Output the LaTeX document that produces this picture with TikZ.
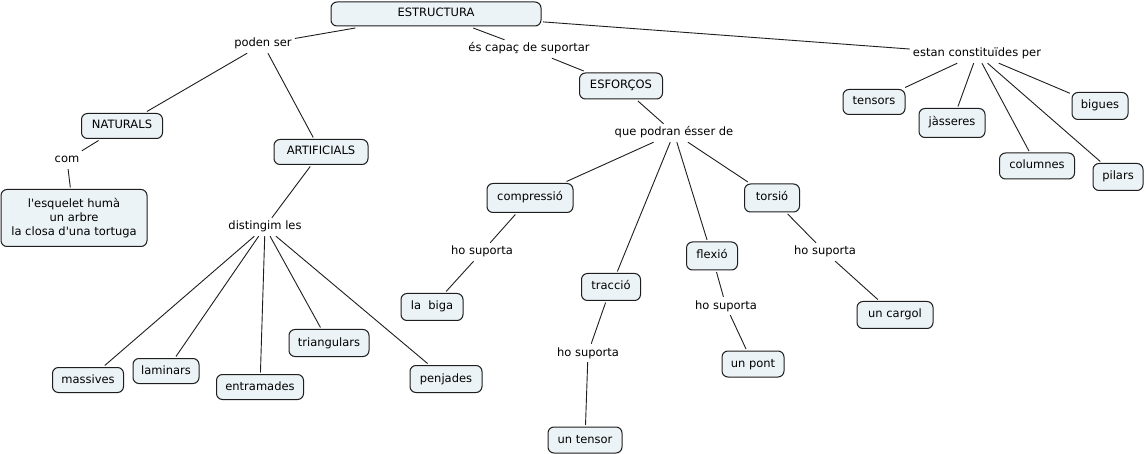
\documentclass[tikz,border=0pt]{standalone}
\usepackage{fontspec}
\setmainfont{DejaVu Sans}
\definecolor{boxfill}{RGB}{236,243,246}
\definecolor{linecol}{RGB}{30,30,30}
\tikzset{
  concept/.style={draw=linecol, fill=boxfill, rounded corners=6pt, line width=1pt,
    inner sep=0pt, outer sep=2pt, align=center, font=\fontsize{11.5}{14}\selectfont,
    text height=9pt, text depth=3pt},
  linkword/.style={inner sep=3pt, font=\fontsize{11.5}{14}\selectfont,
    text height=9pt, text depth=3pt},
  conn/.style={draw=linecol, line width=0.9pt}
}
\begin{document}
\begin{tikzpicture}[x=1pt,y=-1pt]
\useasboundingbox[fill=white] (0,0) rectangle (1146,454);
% concepts
\node[concept, minimum width=210, minimum height=24] (estr) at (436,14) {ESTRUCTURA};
\node[concept, minimum width=81, minimum height=25] (nat) at (122,126) {NATURALS};
\node[concept, minimum width=94, minimum height=25] (art) at (321,152) {ARTIFICIALS};
\node[concept, minimum width=146, minimum height=57, text height=, text depth=] (esq) at (74,218) {l\textquotesingle esquelet humà\\un arbre\\la closa d\textquotesingle una tortuga};
\node[concept, minimum width=71, minimum height=25] (mass) at (88,380) {massives};
\node[concept, minimum width=66, minimum height=25] (lam) at (166,371) {laminars};
\node[concept, minimum width=87, minimum height=25] (entr) at (260,387) {entramades};
\node[concept, minimum width=80, minimum height=27] (tri) at (329,343) {triangulars};
\node[concept, minimum width=72, minimum height=27] (penj) at (446,379) {penjades};
\node[concept, minimum width=83, minimum height=26] (esf) at (621,86) {ESFORÇOS};
\node[concept, minimum width=86, minimum height=29] (comp) at (530,198) {compressió};
\node[concept, minimum width=55, minimum height=28] (tors) at (772,198) {torsió};
\node[concept, minimum width=62, minimum height=27] (biga) at (432,307) {la\ \ biga};
\node[concept, minimum width=59, minimum height=27] (trac) at (611,287) {tracció};
\node[concept, minimum width=74, minimum height=26] (tens) at (585,440) {un tensor};
\node[concept, minimum width=51, minimum height=28] (flex) at (712,256) {flexió};
\node[concept, minimum width=62, minimum height=26] (pont) at (753,364) {un pont};
\node[concept, minimum width=76, minimum height=27] (carg) at (895,315) {un cargol};
\node[concept, minimum width=62, minimum height=25] (tsrs) at (874,102) {tensors};
\node[concept, minimum width=66, minimum height=29] (jass) at (952,123) {jàsseres};
\node[concept, minimum width=75, minimum height=26] (colu) at (1037,166) {columnes};
\node[concept, minimum width=56, minimum height=27] (bigu) at (1100,106) {bigues};
\node[concept, minimum width=50, minimum height=27] (pila) at (1118,177) {pilars};
% linking phrases
\node[linkword] (poden) at (263,44) {poden ser};
\node[linkword] (com) at (67,160) {com};
\node[linkword] (dist) at (265,227) {distingim les};
\node[linkword] (capac) at (529,49) {és capaç de suportar};
\node[linkword] (que) at (674,133) {que podran ésser de};
\node[linkword] (ho1) at (482,252) {ho suporta};
\node[linkword] (ho2) at (588,353) {ho suporta};
\node[linkword] (ho3) at (726,306) {ho suporta};
\node[linkword] (ho4) at (825,252) {ho suporta};
\node[linkword] (estan) at (977,54) {estan constituïdes per};
% connectors
\draw[conn] (estr) -- (poden);
\draw[conn] (poden) -- (nat);
\draw[conn] (poden) -- (art);
\draw[conn] (nat) -- (com);
\draw[conn] (com) -- (esq);
\draw[conn] (art) -- (dist);
\draw[conn] (dist) -- (mass);
\draw[conn] (dist) -- (lam);
\draw[conn] (dist) -- (entr);
\draw[conn] (dist) -- (tri);
\draw[conn] (dist) -- (penj);
\draw[conn] (estr) -- (capac);
\draw[conn] (capac) -- (esf);
\draw[conn] (esf) -- (que);
\draw[conn] (que) -- (comp);
\draw[conn] (que) -- (trac);
\draw[conn] (que) -- (flex);
\draw[conn] (que) -- (tors);
\draw[conn] (comp) -- (ho1);
\draw[conn] (ho1) -- (biga);
\draw[conn] (trac) -- (ho2);
\draw[conn] (ho2) -- (tens);
\draw[conn] (flex) -- (ho3);
\draw[conn] (ho3) -- (pont);
\draw[conn] (tors) -- (ho4);
\draw[conn] (ho4) -- (carg);
\draw[conn] (estr) -- (estan);
\draw[conn] (estan) -- (tsrs);
\draw[conn] (estan) -- (jass);
\draw[conn] (estan) -- (colu);
\draw[conn] (estan) -- (pila);
\draw[conn] (estan) -- (bigu);
\end{tikzpicture}
\end{document}
